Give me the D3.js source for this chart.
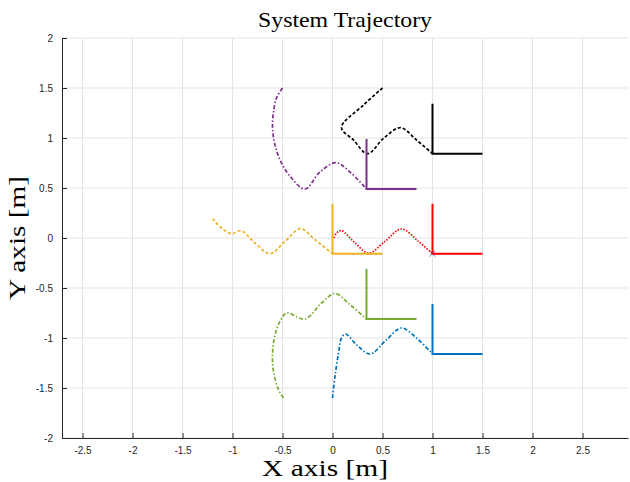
<!DOCTYPE html>
<html>
<head>
<meta charset="utf-8">
<style>
  body { margin: 0; background: #fff; }
  svg { display: block; }
</style>
</head>
<body>
<svg width="630" height="482"></svg>
<script src="https://d3js.org/d3.v7.min.js"></script>
<script>

// agent colours (MATLAB-like)
var agentNames = ["blue", "green", "yellow", "red", "purple", "black"];
var agentColors = ["#0072BD", "#77AC30", "#EDB120", "#FF0000", "#7E2F8E", "#000000"];
var agentDash = ["4,2,1.5,2", "4,2,1.5,2", "3,2.2", "1.5,1.5", "4,2,1.5,2", "3.2,2"];

// trajectories
var blueX   = [0.0, 0.025, 0.06, 0.09, 0.13, 0.24, 0.375, 0.54, 0.69, 0.84, 1.0];
var blueY   = [-1.6, -1.383, -1.15, -1.0, -0.96, -1.067, -1.16, -1.017, -0.9, -1.0, -1.16];
var greenX  = [-0.49, -0.54, -0.59, -0.6, -0.575, -0.525, -0.46, -0.275, -0.11, 0.025, 0.175, 0.34];
var greenY  = [-1.6, -1.517, -1.334, -1.167, -0.967, -0.834, -0.75, -0.81, -0.65, -0.555, -0.667, -0.81];
var yellowX = [-1.2, -1.11, -1.01, -0.915, -0.775, -0.625, -0.475, -0.32, -0.175, 0.0];
var yellowY = [0.193, 0.1, 0.043, 0.073, -0.05, -0.157, -0.034, 0.093, -0.017, -0.157];
var redX    = [0.015, 0.04, 0.09, 0.21, 0.36, 0.525, 0.69, 0.86, 1.0];
var redY    = [0.0, 0.05, 0.073, -0.034, -0.15, -0.034, 0.09, -0.034, -0.157];
var purpleX = [-0.5, -0.56, -0.59, -0.6, -0.575, -0.51, -0.41, -0.275, -0.125, 0.035, 0.175, 0.34];
var purpleY = [1.5, 1.4, 1.26, 1.11, 0.93, 0.75, 0.6, 0.49, 0.66, 0.753, 0.66, 0.49];
var blackX  = [0.5, 0.31, 0.09, 0.21, 0.35, 0.51, 0.68, 0.84, 1.0];
var blackY  = [1.5, 1.33, 1.105, 0.98, 0.843, 0.996, 1.103, 0.98, 0.843];

// final body frames (corner of the L) and axis length
var frameX = [1.0, 0.34, 0.0, 1.0, 0.34, 1.0];
var frameY = [-1.16, -0.81, -0.157, -0.157, 0.49, 0.843];
var frameLen = 0.5;

var xTicks = [-2.5, -2, -1.5, -1, -0.5, 0, 0.5, 1, 1.5, 2, 2.5];
var yTicks = [-2, -1.5, -1, -0.5, 0, 0.5, 1, 1.5, 2];

var svg = d3.select("svg"),
    width = +svg.attr("width"),
    height = +svg.attr("height");

var margin = {left: 62, right: 2, top: 38, bottom: 44};

var x = d3.scaleLinear().domain([-2.705, 2.955]).range([margin.left, width - margin.right]);
var y = d3.scaleLinear().domain([-2, 2]).range([height - margin.bottom, margin.top]);

var trajX = [blueX, greenX, yellowX, redX, purpleX, blackX];
var trajY = [blueY, greenY, yellowY, redY, purpleY, blackY];

var agents = agentNames.map(function(name, i) {
    return {
        name: name,
        color: agentColors[i],
        dash: agentDash[i],
        pts: trajX[i].map(function(v, j) { return [v, trajY[i][j]]; }),
        fx: frameX[i],
        fy: frameY[i]
    };
});

// grid
var grid = svg.append("g").attr("stroke", "#e3e3e3").attr("stroke-width", 1);
grid.selectAll(".gx").data(xTicks).enter().append("line")
    .attr("x1", function(d) { return x(d); }).attr("x2", function(d) { return x(d); })
    .attr("y1", y(-2)).attr("y2", y(2));
grid.selectAll(".gy").data(yTicks).enter().append("line")
    .attr("x1", x.range()[0]).attr("x2", x.range()[1])
    .attr("y1", function(d) { return y(d); }).attr("y2", function(d) { return y(d); });

// axes
var fmt = function(d) { return String(d); };
var xAxis = svg.append("g")
    .attr("transform", "translate(0," + y(-2) + ")")
    .call(d3.axisBottom(x).tickValues(xTicks).tickFormat(fmt).tickSizeInner(-5).tickSizeOuter(0).tickPadding(9));
var yAxis = svg.append("g")
    .attr("transform", "translate(" + x.range()[0] + ",0)")
    .call(d3.axisLeft(y).tickValues(yTicks).tickFormat(fmt).tickSizeInner(-5).tickSizeOuter(0).tickPadding(9));

[xAxis, yAxis].forEach(function(a) {
    a.select(".domain").attr("stroke", "#262626");
    a.selectAll(".tick line").attr("stroke", "#262626");
    a.selectAll(".tick text").attr("fill", "#262626")
        .style("font-family", "'Liberation Sans', Arial, sans-serif").style("font-size", "10px");
});

// trajectories
var line = d3.line()
    .x(function(d) { return x(d[0]); })
    .y(function(d) { return y(d[1]); })
    .curve(d3.curveCatmullRom.alpha(0.5));

svg.append("g").selectAll("path").data(agents).enter().append("path")
    .attr("d", function(d) { return line(d.pts); })
    .attr("fill", "none")
    .attr("stroke", function(d) { return d.color; })
    .attr("stroke-width", 1.7)
    .attr("stroke-dasharray", function(d) { return d.dash; });

// body frames (L shapes)
var frames = svg.append("g").selectAll("g").data(agents).enter().append("g");
frames.append("path")
    .attr("d", function(d) {
        return "M" + x(d.fx) + "," + y(d.fy + frameLen) +
               "L" + x(d.fx) + "," + y(d.fy) +
               "L" + x(d.fx + frameLen) + "," + y(d.fy);
    })
    .attr("fill", "none")
    .attr("stroke", function(d) { return d.color; })
    .attr("stroke-width", 2);

// small cross marker at red agent's end
var red = agents[3];
svg.append("path")
    .attr("d", "M-3,-3L3,3M-3,3L3,-3")
    .attr("transform", "translate(" + x(red.fx) + "," + y(red.fy) + ")")
    .attr("stroke", "#7E2F8E").attr("stroke-width", 1).attr("opacity", 0.7);

// titles (LaTeX-looking serif, stretched to the reference width)
var serif = "'Liberation Serif', 'DejaVu Serif', serif";
var cx = (x.range()[0] + x.range()[1]) / 2;
svg.append("text")
    .attr("x", cx).attr("y", 27)
    .attr("text-anchor", "middle")
    .attr("textLength", 174).attr("lengthAdjust", "spacingAndGlyphs")
    .style("font-family", serif).style("font-size", "21px")
    .text("System Trajectory");
svg.append("text")
    .attr("x", cx - 20).attr("y", 476)
    .attr("text-anchor", "middle")
    .attr("textLength", 126).attr("lengthAdjust", "spacingAndGlyphs")
    .style("font-family", serif).style("font-size", "23px")
    .text("X axis [m]");
svg.append("text")
    .attr("transform", "translate(25," + y(0) + ") rotate(-90)")
    .attr("text-anchor", "middle")
    .attr("textLength", 124).attr("lengthAdjust", "spacingAndGlyphs")
    .style("font-family", serif).style("font-size", "23px")
    .text("Y axis [m]");

</script>
</body>
</html>
